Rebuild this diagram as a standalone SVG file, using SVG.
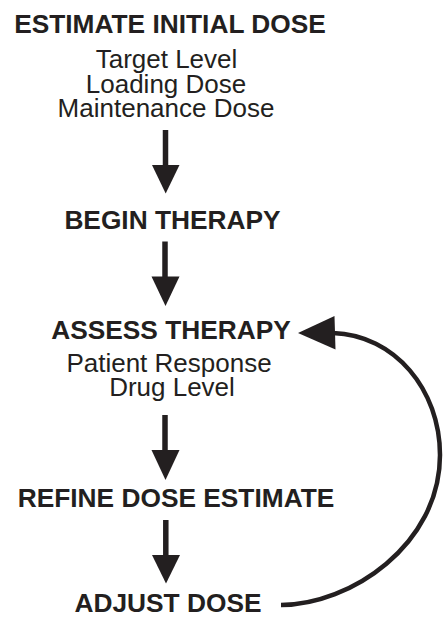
<svg xmlns="http://www.w3.org/2000/svg" width="443" height="617" viewBox="0 0 443 617">
<style>
text{font-family:"Liberation Sans",Arial,sans-serif;fill:#231f20;text-anchor:middle;font-size:26px}
.h{font-weight:bold;font-size:26.3px}
.shaft{stroke:#231f20;stroke-width:5.5;fill:none}
.head{fill:#231f20}
.loop{stroke:#231f20;stroke-width:4.5;fill:none}
</style>
<rect width="443" height="617" fill="#ffffff"/>
<g id="estimate">
<text class="h" x="170" y="33">ESTIMATE INITIAL DOSE</text>
<text x="166.5" y="68">Target Level</text>
<text x="166" y="92.5">Loading Dose</text>
<text x="166" y="117">Maintenance Dose</text>
</g>
<g id="begin"><text class="h" x="172.5" y="229">BEGIN THERAPY</text></g>
<g id="assess">
<text class="h" x="171" y="339">ASSESS THERAPY</text>
<text x="169" y="371.5">Patient Response</text>
<text x="172" y="396">Drug Level</text>
</g>
<g id="refine"><text class="h" x="176" y="506.5">REFINE DOSE ESTIMATE</text></g>
<g id="adjust"><text class="h" x="168" y="612">ADJUST DOSE</text></g>
<g id="connectors">
<line class="shaft" x1="165.5" y1="130" x2="165.5" y2="167"/>
<polygon class="head" points="152,165 179.5,165 165.7,193.5"/>
<line class="shaft" x1="165" y1="241.5" x2="165" y2="279"/>
<polygon class="head" points="151.5,276.5 179.5,276.5 165.5,306"/>
<line class="shaft" x1="165" y1="415" x2="165" y2="452"/>
<polygon class="head" points="151.5,450 179.5,450 165.5,480"/>
<line class="shaft" x1="165.8" y1="520" x2="165.8" y2="557"/>
<polygon class="head" points="152,555 180,555 166,583.5"/>
<path class="loop" d="M 281,605 C 350,605 440,545 440,455 C 440,390 395,335 333,333"/>
<polygon class="head" points="298,333 334.5,316 335.5,349.5"/>
</g>
</svg>
